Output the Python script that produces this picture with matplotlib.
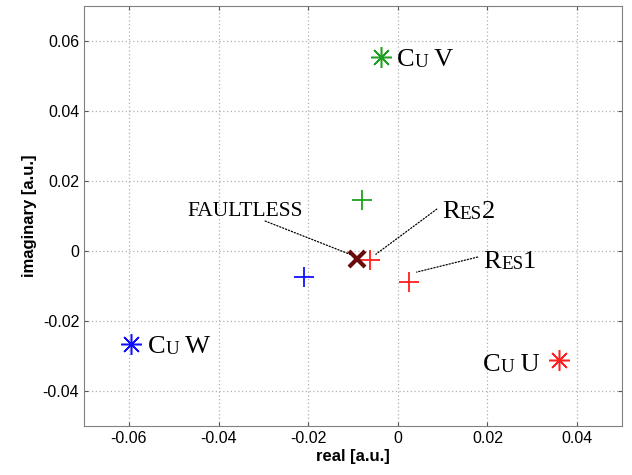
import numpy as np
import matplotlib
matplotlib.use("Agg")
import matplotlib.pyplot as plt

# phase values
cu_names = ["W", "V", "U"]
cu_re = [-0.0596, -0.0038, 0.0360]
cu_im = [-0.0266, 0.0555, -0.0312]
cu_cols = ["#1010ff", "#20a020", "#ff2020"]

res_re = [-0.0209, -0.0080, -0.0062, 0.0024]
res_im = [-0.0073, 0.0146, -0.0026, -0.0089]
res_cols = ["#1010ff", "#20a020", "#ff2020", "#ff2020"]

fl_re, fl_im = -0.0091, -0.0022


def small_caps(ax, x, y, parts, size=19):
    # chain text pieces, big letters at full size and small caps at ~72%
    prev = None
    for txt, big in parts:
        fs = size if big else size * 0.72
        if prev is None:
            prev = ax.annotate(txt, xy=(x, y), xycoords="data", fontsize=fs,
                               family="Liberation Serif", va="baseline", ha="left")
        else:
            prev = ax.annotate(txt, xy=(1, 0), xycoords=prev, fontsize=fs,
                               family="Liberation Serif", va="bottom", ha="left")
    return prev


fig = plt.figure(figsize=(6.32, 4.75), dpi=100)
ax = fig.add_axes([0.133, 0.103, 0.851, 0.884])

for i in range(len(res_re)):
    ax.plot(res_re[i], res_im[i], marker="+", color=res_cols[i], ms=15, mew=1.3, ls="none")
for i in range(len(cu_re)):
    ax.plot(cu_re[i], cu_im[i], marker=(8, 2, 0), color=cu_cols[i], ms=15, mew=1.1, ls="none")
ax.plot(fl_re, fl_im, marker="x", color="#6a0a0a", ms=12, mew=3, ls="none")

ax.set_xlim(-0.07, 0.05)
ax.set_ylim(-0.05, 0.07)
ax.set_xticks([-0.06, -0.04, -0.02, 0, 0.02, 0.04])
ax.set_xticklabels(["-0.06", "-0.04", "-0.02", "0", "0.02", "0.04"])
ax.set_yticks([-0.04, -0.02, 0, 0.02, 0.04, 0.06])
ax.set_yticklabels(["-0.04", "-0.02", "0", "0.02", "0.04", "0.06"])
ax.tick_params(labelsize=11.5, direction="in", length=3, color="#555555", top=True, right=True)
for lab in ax.get_xticklabels() + ax.get_yticklabels():
    lab.set_family("Liberation Sans")
ax.grid(True, ls=(0, (1, 2)), color="#b0b0b0", lw=0.9)
for s in ax.spines.values():
    s.set_color("#808080")
ax.set_xlabel("real [a.u.]", fontsize=12, fontweight="bold", family="Liberation Sans", labelpad=2)
ax.set_ylabel("imaginary [a.u.]", fontsize=12, fontweight="bold", family="Liberation Sans", labelpad=4)

# Cu labels
small_caps(ax, -0.0558, -0.0291, [("C", 1), ("U", 0), (" " + cu_names[0], 1)])
small_caps(ax, -0.0002, 0.0529, [("C", 1), ("U", 0), (" " + cu_names[1], 1)])
small_caps(ax, 0.0189, -0.0343, [("C", 1), ("U", 0), (" " + cu_names[2], 1)])

# annotations with dotted leader lines
dots = dict(arrowstyle="-", ls=(0, (1, 1.5)), lw=0.9, color="black", shrinkA=0, shrinkB=0)
ax.annotate("", xy=(-0.0107, -0.0009), xytext=(-0.0296, 0.0086), arrowprops=dots)
ax.text(-0.0469, 0.0100, "FAULTLESS", fontsize=15.5, family="Liberation Serif", va="baseline")

ax.annotate("", xy=(-0.0049, -0.0009), xytext=(0.0087, 0.0120), arrowprops=dots)
small_caps(ax, 0.0099, 0.0094, [("R", 1), ("ES", 0), ("2", 1)])

ax.annotate("", xy=(0.0042, -0.0060), xytext=(0.0178, -0.0017), arrowprops=dots)
small_caps(ax, 0.0191, -0.0049, [("R", 1), ("ES", 0), ("1", 1)])

fig.savefig("out.png", dpi=100)
